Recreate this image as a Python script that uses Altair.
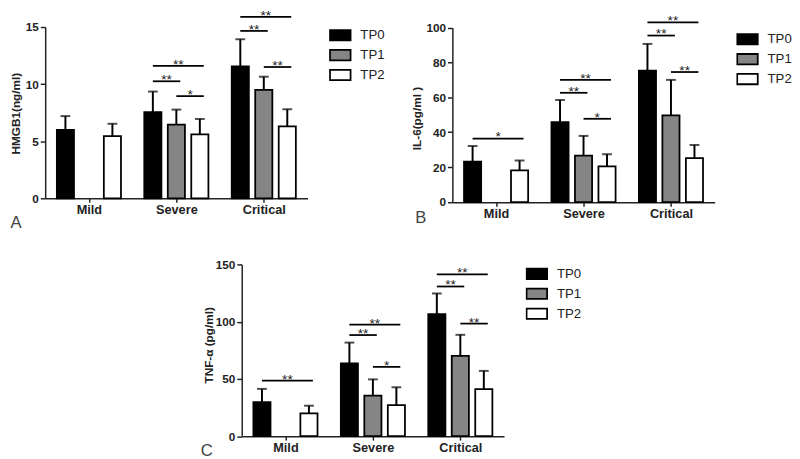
import json
import altair as alt
import pandas as pd

# ---------------- data ----------------
groups = ["Mild", "Severe", "Critical"]
series = ["TP0", "TP1", "TP2"]
fills = ["#000000", "#858585", "#ffffff"]
panel_letters = ["A", "B", "C"]
y_titles = ["HMGB1(ng/ml)", "IL-6(pg/ml )", "TNF-\u03b1 (pg/ml)"]
y_ticks = [[0, 5, 10, 15], [0, 20, 40, 60, 80, 100], [0, 50, 100, 150]]
y_max = [15, 100, 150]

# means and SDs, ordered Mild, Severe, Critical (None = not measured)
hmgb1_mean = {"TP0": [6.0, 7.55, 11.55], "TP1": [None, 6.45, 9.5], "TP2": [5.45, 5.6, 6.3]}
hmgb1_sd = {"TP0": [1.2, 1.8, 2.38], "TP1": [None, 1.32, 1.15], "TP2": [1.08, 1.35, 1.5]}
il6_mean = {"TP0": [23.2, 45.8, 75.3], "TP1": [None, 26.6, 49.7], "TP2": [18.1, 20.4, 25.2]}
il6_sd = {"TP0": [8.9, 12.7, 15.3], "TP1": [None, 11.3, 20.3], "TP2": [5.7, 7.0, 7.5]}
tnf_mean = {"TP0": [29.8, 63.6, 106.6], "TP1": [None, 35.5, 70.2], "TP2": [19.8, 27.2, 41.0]}
tnf_sd = {"TP0": [11.5, 18.1, 18.0], "TP1": [None, 14.1, 18.3], "TP2": [6.8, 15.5, 16.0]}

# significance brackets
hmgb1_sig_group = ["Severe", "Severe", "Severe", "Critical", "Critical", "Critical"]
hmgb1_sig_from = ["TP0", "TP0", "TP1", "TP0", "TP0", "TP1"]
hmgb1_sig_to = ["TP2", "TP1", "TP2", "TP2", "TP1", "TP2"]
hmgb1_sig_level = [11.6, 10.25, 8.95, 15.88, 14.66, 11.5]
hmgb1_sig_label = ["**", "**", "*", "**", "**", "**"]

il6_sig_group = ["Mild", "Severe", "Severe", "Severe", "Critical", "Critical", "Critical"]
il6_sig_from = ["TP0", "TP0", "TP0", "TP1", "TP0", "TP0", "TP1"]
il6_sig_to = ["TP2", "TP2", "TP1", "TP2", "TP2", "TP1", "TP2"]
il6_sig_level = [36.4, 70.0, 62.6, 47.7, 103.0, 95.4, 74.5]
il6_sig_label = ["*", "**", "**", "*", "**", "**", "**"]

tnf_sig_group = ["Mild", "Severe", "Severe", "Severe", "Critical", "Critical", "Critical"]
tnf_sig_from = ["TP0", "TP0", "TP0", "TP1", "TP0", "TP0", "TP1"]
tnf_sig_to = ["TP2", "TP2", "TP1", "TP2", "TP2", "TP1", "TP2"]
tnf_sig_level = [48.4, 97.4, 88.3, 60.5, 141.3, 130.7, 98.3]
tnf_sig_label = ["**", "**", "**", "*", "**", "**", "**"]

# ---------------- styling constants ----------------
PITCH = 0.2687   # offset between bars in a group (x units)
HALF = 0.098     # half bar width
END = 0.045      # bracket end overhang
W = 268
FONT = "Liberation Sans"
INK = "#222222"
RECT_PATH = "M-1,-0.5H1V0.5H-1Z"

G_JS = json.dumps(groups)
S_JS = json.dumps(series)


def bars_table(mean, sd):
    rows = []
    for s in series:
        for g, m, d in zip(groups, mean[s], sd[s]):
            if m is None:
                continue
            rows.append({"group": g, "series": s, "mean": m, "sd": d})
    return pd.DataFrame(rows)


def sig_table(g, f, t, lv, lb):
    return pd.DataFrame({"group": g, "from": f, "to": t, "level": lv, "label": lb})


def panel(bars, sig, idx, height, yrange, title_x, title_y, letter_x, letter_y,
          legend_x, legend_y):
    xscale = alt.Scale(domain=[-0.5, 2.5], nice=False, zero=False)
    ykw = dict(domain=[0, y_max[idx]], nice=False)
    if yrange is not None:
        ykw["range"] = yrange
    yscale = alt.Scale(**ykw)
    xaxis = alt.Axis(values=[0, 1, 2], labelExpr=f"{G_JS}[datum.value]", title=None,
                     grid=False, tickSize=4, tickWidth=1.5, tickColor=INK,
                     domainColor=INK, domainWidth=1.5, labelFontSize=13,
                     labelFontWeight="bold", labelColor=INK, labelPadding=2,
                     labelFlush=False, labelOverlap=False)
    yaxis = alt.Axis(values=y_ticks[idx], title=y_titles[idx], grid=False, tickSize=5,
                     tickWidth=1.5, tickColor=INK, domainColor=INK, domainWidth=1.5,
                     labelFontSize=12, labelFontWeight="bold", labelColor=INK,
                     labelPadding=2, labelFlush=False, titleFontSize=12,
                     titleFontWeight="bold", titleColor=INK, titleX=title_x,
                     titleY=title_y, titleAngle=270, titleAlign="center",
                     titleBaseline="middle")

    def X(f):
        return alt.X(f, type="quantitative", scale=xscale, axis=xaxis)

    def Y(f):
        return alt.Y(f, type="quantitative", scale=yscale, axis=yaxis, stack=None)

    base = alt.Chart(bars).transform_calculate(
        gi=f"indexof({G_JS}, datum.group)",
        si=f"indexof({S_JS}, datum.series)",
    ).transform_calculate(
        xc=f"datum.gi + (datum.si - 1) * {PITCH}",
        upper="datum.mean + datum.sd",
    ).transform_calculate(
        x0=f"datum.xc - {HALF}",
        x1=f"datum.xc + {HALF}",
    )

    errs = base.mark_rule(color="black", strokeWidth=2).encode(
        x=X("xc"), y=Y("mean"), y2="upper:Q")
    caps = base.mark_tick(orient="horizontal", color="black", size=10, thickness=2).encode(
        x=X("xc"), y=Y("upper"))
    barl = base.mark_bar(stroke="black", strokeWidth=1.8).encode(
        x=X("x0"), x2="x1:Q", y=Y("mean"), y2=alt.datum(0),
        fill=alt.Fill("series:N", scale=alt.Scale(domain=series, range=fills),
                      legend=alt.Legend(orient="none", legendX=legend_x, legendY=legend_y,
                                        title=None, padding=0, symbolType=RECT_PATH,
                                        symbolSize=441, symbolStrokeColor="black",
                                        symbolStrokeWidth=1.8, labelFontSize=13.5,
                                        labelColor=INK, labelOffset=9, rowPadding=6.4,
                                        clipHeight=14, labelFont=FONT)))

    sbase = alt.Chart(sig).transform_calculate(
        gi=f"indexof({G_JS}, datum.group)",
        fi=f"indexof({S_JS}, datum.from)",
        ti=f"indexof({S_JS}, datum.to)",
    ).transform_calculate(
        xs=f"datum.gi + (datum.fi - 1) * {PITCH}",
        xe=f"datum.gi + (datum.ti - 1) * {PITCH} + {END}",
    ).transform_calculate(xm="(datum.xs + datum.xe) / 2")

    rules = sbase.mark_rule(color="black", strokeWidth=1.8).encode(
        x=X("xs"), x2="xe:Q", y=Y("level"))
    stars = sbase.mark_text(fontSize=14, dy=3, baseline="alphabetic", align="center",
                            color=INK, font=FONT).encode(
        x=X("xm"), y=Y("level"), text="label:N")

    letter = alt.Chart(pd.DataFrame({"letter": [panel_letters[idx]]})).mark_text(
        fontSize=17, align="left", baseline="alphabetic", color="#444444", font=FONT
    ).encode(x=alt.value(letter_x), y=alt.value(letter_y), text="letter:N")

    return alt.layer(errs, caps, barl, rules, stars, letter).properties(width=W, height=height)


pA = panel(bars_table(hmgb1_mean, hmgb1_sd),
           sig_table(hmgb1_sig_group, hmgb1_sig_from, hmgb1_sig_to, hmgb1_sig_level, hmgb1_sig_label),
           0, 175, None, -30, 88, -35.5, 205.5, 290, 1.3)
pB = panel(bars_table(il6_mean, il6_sd),
           sig_table(il6_sig_group, il6_sig_from, il6_sig_to, il6_sig_level, il6_sig_label),
           1, 179, [178.8, 0.5], -37, 93, -38, 200, 290, 5.4)
pC = panel(bars_table(tnf_mean, tnf_sd),
           sig_table(tnf_sig_group, tnf_sig_from, tnf_sig_to, tnf_sig_level, tnf_sig_label),
           2, 175.5, None, -34, 82.2, -41.8, 195.7, 290, 2.7)

spacer = alt.Chart(pd.DataFrame({"s": [0]})).mark_point(opacity=0, size=1).encode(
    x=alt.value(0), y=alt.value(0)).properties(width=50, height=1)

row1 = alt.hconcat(pA, pB, spacing=148, bounds="flush").resolve_scale(
    x="independent", y="independent", fill="independent").resolve_legend(fill="independent")
row2 = alt.hconcat(spacer, pC, spacing=150.8, bounds="flush").resolve_scale(
    x="independent", y="independent", fill="independent").resolve_legend(fill="independent")

chart = alt.vconcat(row1, row2, spacing=242.5, bounds="flush").resolve_scale(
    x="independent", y="independent", fill="independent").resolve_legend(
    fill="independent").properties(
    padding={"left": 2, "top": -4.5, "right": 0, "bottom": 0}
).configure(font=FONT).configure_view(stroke=None)

chart.save("out.html", embed_options={"renderer": "svg", "actions": False})
